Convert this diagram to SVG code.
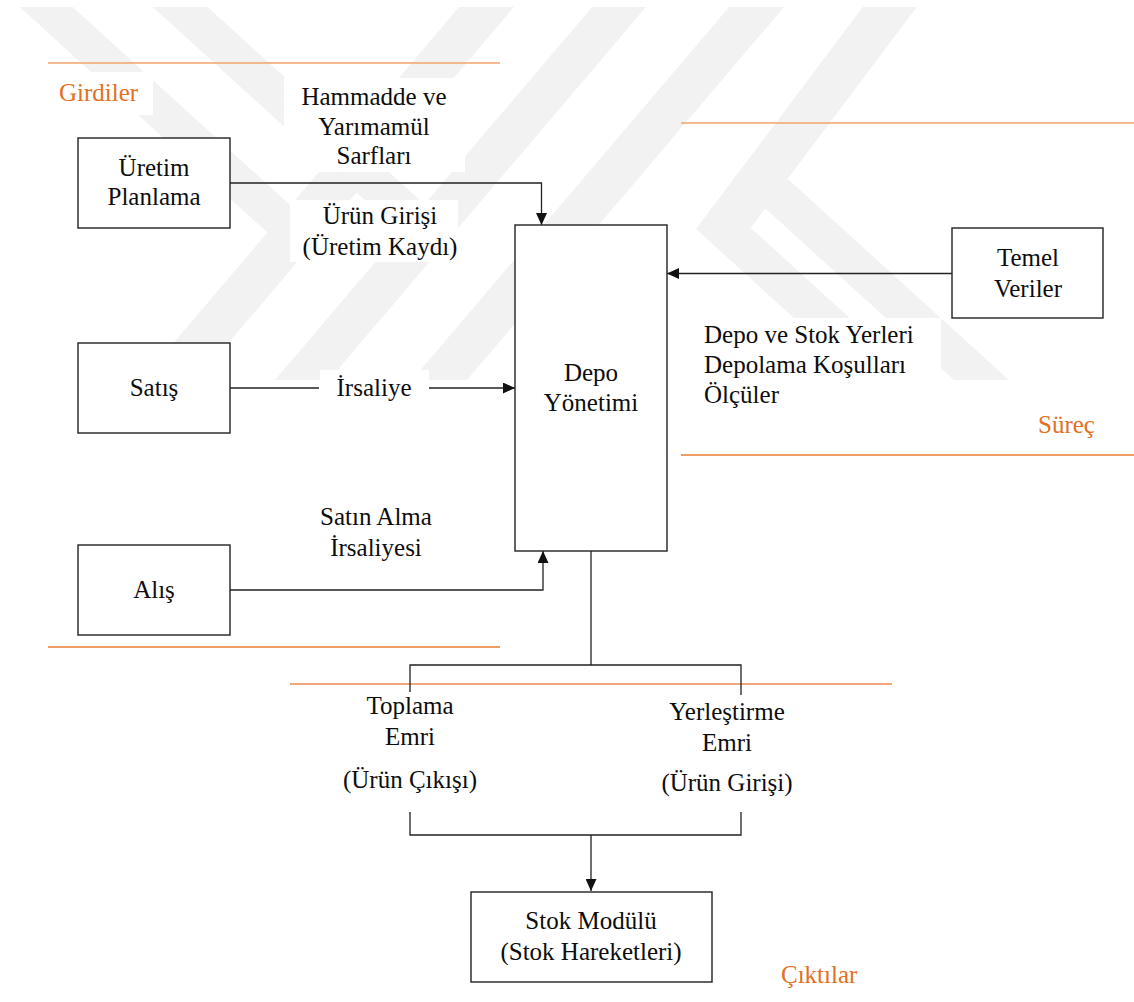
<svg xmlns="http://www.w3.org/2000/svg" width="1134" height="1002" viewBox="0 0 1134 1002">
  <defs>
    <style>
      .t { font-family: "Liberation Serif", "Times New Roman", "DejaVu Serif", serif; font-size: 25px; fill: #0d0d0d; }
      .c { text-anchor: middle; }
      .band-title { fill: #E36F22; }
      .box { fill: #fff; stroke: #222; stroke-width: 1.4; }
      .wire { fill: none; stroke: #222; stroke-width: 1.3; }
      .rule { stroke-width: 1.3; fill: none; }
      .bg { fill: #fff; }
    </style>
    <marker id="arrow" viewBox="0 0 12 11" refX="12" refY="5.5" markerWidth="12" markerHeight="11" markerUnits="userSpaceOnUse" orient="auto" preserveAspectRatio="none">
      <path d="M0,0 L12,5.5 L0,11 Z" fill="#111"/>
    </marker>
    <clipPath id="wm-clip">
      <rect x="0" y="7" width="1134" height="373"/>
    </clipPath>
  </defs>

  <rect width="1134" height="1002" fill="#fff"/>

  <!-- faint background emblem -->
  <g id="emblem" fill="#f2f2f2" clip-path="url(#wm-clip)">
    <polygon points="465,0 520,0 197,380 142,380"/>
    <polygon points="12,0 65,0 322,234 269,234"/>
    <polygon points="598,0 652,0 329,380 275,380"/>
    <polygon points="145,0 200,0 455,232 400,232"/>
    <polygon points="735,0 790,0 467,380 412,380"/>
    <polygon points="868,0 922,0 750,229 696,229"/>
    <polygon points="734,180 789,180 1009,380 954,380"/>
    <polygon points="696,229 752,229 918,380 862,380"/>
  </g>

  <!-- section rules -->
  <g id="rules">
    <line class="rule" x1="48" y1="63" x2="500" y2="63" stroke="#F2A36B"/>
    <line class="rule" x1="681" y1="123" x2="1134" y2="123" stroke="#F2A36B"/>
    <line class="rule" x1="681" y1="455" x2="1134" y2="455" stroke="#E97A30"/>
    <line class="rule" x1="48" y1="647" x2="500" y2="647" stroke="#E97A30"/>
    <line class="rule" x1="290" y1="684" x2="892" y2="684" stroke="#EC8B4C"/>
  </g>

  <!-- white backing behind the labels -->
  <g id="label-backing">
    <rect class="bg" x="48" y="72" width="105" height="43"/>
    <rect class="bg" x="284" y="78" width="181" height="94"/>
    <rect class="bg" x="290" y="200" width="168" height="62"/>
    <rect class="bg" x="700" y="318" width="241" height="67"/>
    <rect class="bg" x="320" y="370" width="109" height="36"/>
  </g>

  <!-- connectors -->
  <g id="connectors">
    <polyline class="wire" points="230,183 541.5,183 541.5,225" marker-end="url(#arrow)"/>
    <line class="wire" x1="952" y1="273.5" x2="667" y2="273.5" marker-end="url(#arrow)"/>
    <line class="wire" x1="230" y1="388" x2="319" y2="388"/>
    <line class="wire" x1="429" y1="388" x2="515" y2="388" marker-end="url(#arrow)"/>
    <polyline class="wire" points="230,590 543,590 543,551" marker-end="url(#arrow)"/>
    <line class="wire" x1="591" y1="551" x2="591" y2="665"/>
    <polyline class="wire" points="410,692 410,665 741,665 741,695"/>
    <polyline class="wire" points="410,812 410,835 741,835 741,812"/>
    <line class="wire" x1="591" y1="835" x2="591" y2="891" marker-end="url(#arrow)"/>
  </g>

  <g font-family="'Liberation Serif', 'Times New Roman', serif" font-size="25">
    <!-- section titles -->
    <g id="title-girdiler"><text class="t band-title" x="59" y="101">Girdiler</text></g>
    <g id="title-surec"><text class="t band-title" x="1038" y="433">Süreç</text></g>
    <g id="title-ciktilar"><text class="t band-title" x="781" y="983">Çıktılar</text></g>

    <!-- nodes -->
    <g id="node-uretim-planlama">
      <rect class="box" x="78" y="138" width="152" height="90"/>
      <text class="t c" x="154" y="176">Üretim</text>
      <text class="t c" x="154" y="205">Planlama</text>
    </g>
    <g id="node-satis">
      <rect class="box" x="78" y="343" width="152" height="90"/>
      <text class="t c" x="154" y="396">Satış</text>
    </g>
    <g id="node-alis">
      <rect class="box" x="78" y="545" width="152" height="90"/>
      <text class="t c" x="154" y="598">Alış</text>
    </g>
    <g id="node-depo-yonetimi">
      <rect class="box" x="515" y="225" width="152" height="326"/>
      <text class="t c" x="591" y="381">Depo</text>
      <text class="t c" x="591" y="411">Yönetimi</text>
    </g>
    <g id="node-temel-veriler">
      <rect class="box" x="952" y="228" width="151" height="90"/>
      <text class="t c" x="1028" y="266">Temel</text>
      <text class="t c" x="1028" y="297">Veriler</text>
    </g>
    <g id="node-stok-modulu">
      <rect class="box" x="471" y="892" width="241" height="90"/>
      <text class="t c" x="591" y="929">Stok Modülü</text>
      <text class="t c" x="591" y="960">(Stok Hareketleri)</text>
    </g>

    <!-- connector labels -->
    <g id="label-hammadde">
      <text class="t c" x="374" y="105">Hammadde ve</text>
      <text class="t c" x="374" y="135">Yarımamül</text>
      <text class="t c" x="374" y="164">Sarfları</text>
    </g>
    <g id="label-urun-girisi">
      <text class="t c" x="380" y="224">Ürün Girişi</text>
      <text class="t c" x="380" y="255">(Üretim Kaydı)</text>
    </g>
    <g id="label-irsaliye">
      <text class="t c" x="374" y="396">İrsaliye</text>
    </g>
    <g id="label-satin-alma">
      <text class="t c" x="376" y="525">Satın Alma</text>
      <text class="t c" x="376" y="556">İrsaliyesi</text>
    </g>
    <g id="label-temel-veriler">
      <text class="t" x="704" y="343">Depo ve Stok Yerleri</text>
      <text class="t" x="704" y="373">Depolama Koşulları</text>
      <text class="t" x="704" y="403">Ölçüler</text>
    </g>
    <g id="label-toplama">
      <text class="t c" x="410" y="714">Toplama</text>
      <text class="t c" x="410" y="745">Emri</text>
      <text class="t c" x="410" y="788">(Ürün Çıkışı)</text>
    </g>
    <g id="label-yerlestirme">
      <text class="t c" x="727" y="720">Yerleştirme</text>
      <text class="t c" x="727" y="751">Emri</text>
      <text class="t c" x="727" y="791">(Ürün Girişi)</text>
    </g>
  </g>
</svg>
